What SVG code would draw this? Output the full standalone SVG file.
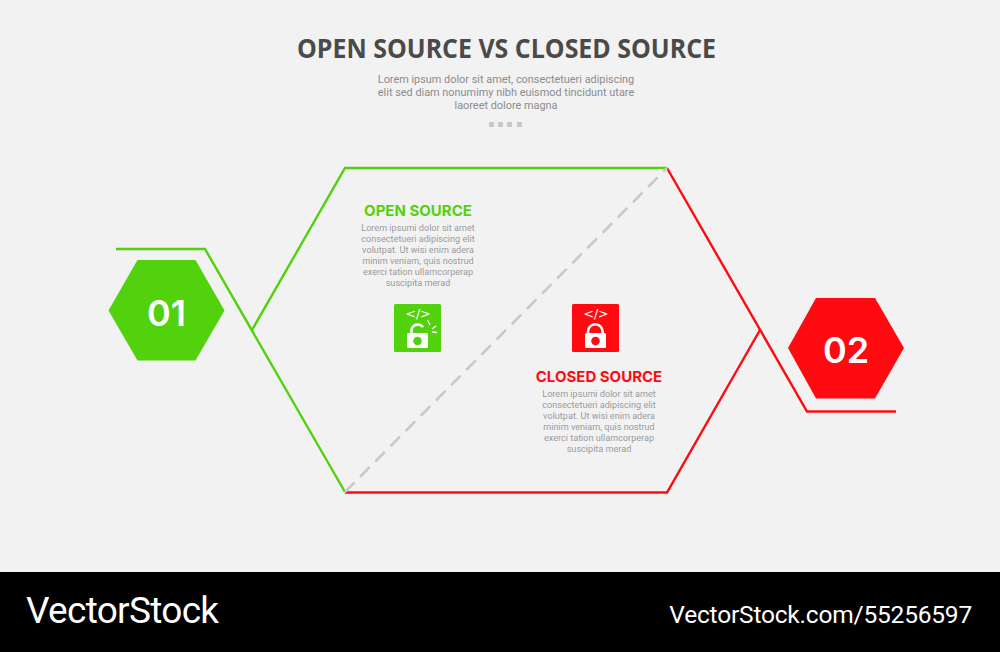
<svg xmlns="http://www.w3.org/2000/svg" width="1000" height="652" viewBox="0 0 1000 652">
<style>
.ln{fill:none;stroke-width:2.4}
.g{stroke:#52d10d}
.r{stroke:#ff0a11}
.body{font-family:Roboto,"Liberation Sans",sans-serif;font-size:9.1px;fill:#9b9b9b;text-anchor:middle}
.sub{font-family:Roboto,"Liberation Sans",sans-serif;font-size:10.9px;fill:#8c8c8c;text-anchor:middle}
.head{font-family:Inter,"Liberation Sans",sans-serif;font-size:15px;font-weight:700;text-anchor:middle}
.num{font-family:Inter,"Liberation Sans",sans-serif;font-size:36px;font-weight:600;fill:#fff;text-anchor:middle}
.code{font-family:"DejaVu Sans",sans-serif;font-size:12.5px;fill:#fff;text-anchor:middle}
.wm{font-family:Roboto,"Liberation Sans",sans-serif;fill:#fff}
</style>
<rect width="1000" height="652" fill="#f2f2f2"/>
<g id="title">
<text x="506.500" y="58" font-family="'Open Sans','Liberation Sans',sans-serif" font-size="26.5px" font-weight="700" fill="#4a4a4a" text-anchor="middle" textLength="419" lengthAdjust="spacingAndGlyphs">OPEN SOURCE VS CLOSED SOURCE</text>
<text class="sub" x="506" y="83">Lorem ipsum dolor sit amet, consectetueri adipiscing</text>
<text class="sub" x="506" y="96">elit sed diam nonumimy nibh euismod tincidunt utare</text>
<text class="sub" x="506" y="109">laoreet dolore magna</text>
<g fill="#c9c9c9"><rect x="489" y="122" width="5" height="5"/><rect x="498" y="122" width="5" height="5"/><rect x="507" y="122" width="5" height="5"/><rect x="517" y="122" width="5" height="5"/></g>
</g>
<g id="connectors">
<path class="ln g" d="M116 249H205L345 492"/>
<path class="ln g" d="M252 330L345 168H667"/>
<path class="ln r" d="M345 492.500H667L760 330"/>
<path class="ln r" d="M667 168L807 411.500H896"/>
<path d="M345 492L667 168" fill="none" stroke="#c9c9c9" stroke-width="2.600" stroke-dasharray="13.500 8"/>
</g>
<g id="node-01">
<path d="M108.500 310.500L137.500 260H195.500L224.500 310.500L195.500 360.500H137.500Z" fill="#52d10d"/>
<text class="num" x="166.500" y="326">01</text>
</g>
<g id="node-02">
<path d="M788 348L816 298H875L904 348L875 398.500H816Z" fill="#ff0a11"/>
<text class="num" x="846" y="363">02</text>
</g>
<g id="open-source">
<text class="head" x="418" y="215.500" fill="#52d10d">OPEN SOURCE</text>
<text class="body" x="418" y="231">Lorem ipsumi dolor sit amet</text>
<text class="body" x="418" y="242">consectetueri adipiscing elit</text>
<text class="body" x="418" y="253">volutpat. Ut wisi enim adera</text>
<text class="body" x="418" y="264">minim veniam, quis nostrud</text>
<text class="body" x="418" y="275">exerci tation ullamcorperap</text>
<text class="body" x="418" y="286">suscipita merad</text>
</g>
<g id="open-icon">
<rect x="394" y="304" width="47" height="48" rx="1.500" fill="#52d10d"/>
<text class="code" x="418" y="317.500">&lt;/&gt;</text>
<path d="M411.500 330V335M411.500 330A6.500 6.500 0 0 1 423 327" fill="none" stroke="#fff" stroke-width="2.600"/>
<rect x="407" y="333" width="21" height="15" rx="1.500" fill="#fff"/>
<circle cx="417.500" cy="341" r="4.300" fill="#52d10d"/>
<path d="M427.500 320L430 325M436 326L432 329M437 332.500L432 332" fill="none" stroke="#fff" stroke-width="1.300"/>
</g>
<g id="closed-icon">
<rect x="572" y="304" width="47" height="48" rx="1.500" fill="#ff0a11"/>
<text class="code" x="596" y="317.500">&lt;/&gt;</text>
<path d="M588 334V331.500A7.300 7.300 0 0 1 602.600 331.500V334" fill="none" stroke="#fff" stroke-width="2.600"/>
<rect x="585" y="333" width="21" height="15" rx="1.500" fill="#fff"/>
<circle cx="595.500" cy="341" r="4.300" fill="#ff0a11"/>
</g>
<g id="closed-source">
<text class="head" x="599" y="381.500" fill="#ff0a11">CLOSED SOURCE</text>
<text class="body" x="599" y="397">Lorem ipsumi dolor sit amet</text>
<text class="body" x="599" y="408">consectetueri adipiscing elit</text>
<text class="body" x="599" y="419">volutpat. Ut wisi enim adera</text>
<text class="body" x="599" y="430">minim veniam, quis nostrud</text>
<text class="body" x="599" y="441">exerci tation ullamcorperap</text>
<text class="body" x="599" y="452">suscipita merad</text>
</g>
<g id="watermark">
<rect y="572" width="1000" height="80" fill="#000"/>
<text class="wm" x="26" y="623" font-size="37px" letter-spacing="-0.7">VectorStock</text>
<text class="wm" x="972" y="623" font-size="24.5px" text-anchor="end" letter-spacing="-0.2">VectorStock.com/55256597</text>
</g>
</svg>
